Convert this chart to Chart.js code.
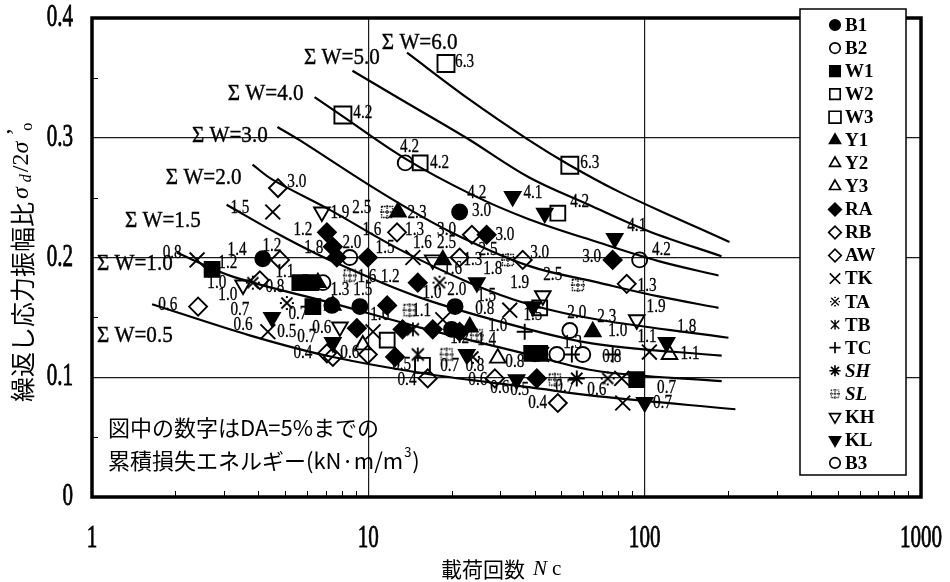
<!DOCTYPE html>
<html><head><meta charset="utf-8">
<script src="https://cdn.jsdelivr.net/npm/chart.js"></script>
<style>html,body{margin:0;padding:0;background:#fff}#wrap{width:950px;height:582px}</style>
</head><body><div id="wrap"><canvas id="c" width="950" height="582"></canvas></div>
<script>
// ---- axis ticks ----
const xTicks = [1, 10, 100, 1000];
const yTicks = [0, 0.1, 0.2, 0.3, 0.4];
const xMinor = [2,3,4,5,6,7,8,9,20,30,40,50,60,70,80,90,200,300,400,500,600,700,800,900];
const yMinor = [0.05, 0.15, 0.25, 0.35];

// ---- ΣW curves (N, stress ratio) ----
const curveNames = ['Σ W=6.0','Σ W=5.0','Σ W=4.0','Σ W=3.0','Σ W=2.0','Σ W=1.5','Σ W=1.0','Σ W=0.5'];
const sw60N = [13.8, 23.2, 38.1, 53.2, 80.6, 132.7, 202.8];
const sw60S = [0.371, 0.332, 0.298, 0.2775, 0.255, 0.232, 0.213];
const sw50N = [8.76, 12.9, 22.6, 38.1, 62.8, 103.4, 189.7];
const sw50S = [0.356, 0.333, 0.300, 0.267, 0.244, 0.222, 0.201];
const sw40N = [6.39, 8.06, 13.5, 23.7, 38.1, 68.2, 112.3, 185];
const sw40S = [0.334, 0.318, 0.283, 0.2525, 0.232, 0.2125, 0.197, 0.185];
const sw30N = [4.69, 5.64, 11.0, 19.6, 38.1, 68.2, 112.3, 185];
const sw30S = [0.309, 0.298, 0.255, 0.222, 0.193, 0.179, 0.1675, 0.158];
const sw20N = [3.81, 4.50, 7.23, 12.9, 23.2, 38.1, 68.2, 201];
const sw20S = [0.2775, 0.265, 0.240, 0.207, 0.179, 0.161, 0.148, 0.133];
const sw15N = [3.07, 4.77, 7.23, 15.3, 38.1, 68.2, 190];
const sw15S = [0.244, 0.219, 0.198, 0.1667, 0.140, 0.1275, 0.118];
const sw10N = [2.03, 3.23, 7.23, 15.3, 38.1, 68.2, 190];
const sw10S = [0.204, 0.184, 0.1625, 0.1417, 0.119, 0.105, 0.0967];
const sw05N = [1.65, 3.72, 7.23, 16.6, 38.1, 68.2, 213];
const sw05S = [0.161, 0.135, 0.1175, 0.1025, 0.0917, 0.084, 0.0733];
const curveLabelN = [11.19, 5.85, 3.10, 2.30, 1.85, 1.316, 1.042, 1.042];
const curveLabelS = [0.379, 0.367, 0.3365, 0.302, 0.267, 0.231, 0.195, 0.135];

// ---- test series (N, stress ratio) ----
const B1_N = [4.15, 21.4, 7.38, 9.32, 20.6, 20.0];
const B1_S = [0.199, 0.238, 0.160, 0.159, 0.159, 0.140];
const B2_N = [13.6, 6.85, 8.57, 53.6, 48.1, 59.7];
const B2_S = [0.279, 0.179, 0.200, 0.139, 0.119, 0.119];
const W1_N = [2.72, 5.65, 6.20, 6.30, 39.0, 41.7, 93.6];
const W1_S = [0.190, 0.179, 0.179, 0.159, 0.120, 0.120, 0.098];
const W2_N = [15.4, 48.5, 41.7, 11.7, 15.7];
const W2_S = [0.279, 0.237, 0.158, 0.131, 0.110];
const W3_N = [8.09, 19.1, 53.6];
const W3_S = [0.319, 0.362, 0.277];
const Y1_N = [12.8, 18.6, 6.57, 64.9, 23.3];
const Y1_S = [0.238, 0.198, 0.179, 0.138, 0.142];
const Y2_N = [29.4, 123, 7.44];
const Y2_S = [0.116, 0.119, 0.160];
const Y3_N = [9.55];
const Y3_S = [0.127];
const RA_N = [7.08, 26.8, 7.69, 9.96, 7.44, 15.1, 11.7, 9.09, 13.3, 17.1, 21.4, 40.7, 76.6, 12.5];
const RA_S = [0.221, 0.219, 0.200, 0.200, 0.209, 0.179, 0.160, 0.141, 0.140, 0.140, 0.138, 0.099, 0.198, 0.117];
const RB_N = [4.71, 4.79, 2.42, 12.7, 23.7, 21.4, 36.2, 86.1, 7.08];
const RB_S = [0.258, 0.198, 0.159, 0.221, 0.219, 0.200, 0.198, 0.178, 0.120];
const AW_N = [4.05, 7.44, 9.96, 16.4, 28.7, 48.5];
const AW_S = [0.181, 0.117, 0.119, 0.099, 0.099, 0.0785];
const TK_N = [2.40, 4.51, 4.33, 14.5, 18.6, 32.5, 10.4, 104, 83.3, 82.6, 42.4];
const TK_S = [0.198, 0.238, 0.138, 0.200, 0.148, 0.156, 0.138, 0.121, 0.0785, 0.099, 0.119];
const TA_N = [3.82, 18.1, 5.07, 73.5, 23.9];
const TA_S = [0.179, 0.179, 0.162, 0.099, 0.117];
const TB_N = [14.5, 15.1];
const TB_S = [0.140, 0.119];
const TC_N = [36.8, 54.5, 76.6];
const TC_S = [0.138, 0.119, 0.119];
const SH_N = [56.8];
const SH_S = [0.099];
const SL_N = [11.7, 8.57, 32.0, 57.3, 14.1, 19.2, 47.3, 24.7];
const SL_S = [0.238, 0.185, 0.198, 0.177, 0.156, 0.119, 0.098, 0.135];
const KH_N = [6.79, 3.52, 17.1, 42.8, 93.6, 7.89];
const KH_S = [0.238, 0.177, 0.198, 0.168, 0.148, 0.142];
const KL_N = [33.3, 43.5, 77.9, 24.7, 39.4, 4.48, 7.44, 22.7, 34.4, 120, 100];
const KL_S = [0.251, 0.237, 0.216, 0.179, 0.159, 0.150, 0.129, 0.119, 0.098, 0.129, 0.079];
const B3_N = [95.9];
const B3_S = [0.198];

// ---- energy numbers written in the figure ----
const numText = ['4.2','6.3','6.3','4.2','4.2','4.2','4.1','4.2','4.1','3.0','4.2','1.3','2.5','3.0','1.9','1.8','2.0','2.3','1.0','1.3','1.1','1.1','0.8','0.7','0.7',
 '3.0','1.5','1.9','2.5','2.3','3.0','1.2','2.0','1.6','1.3','3.0','3.0','1.6','2.5','2.5','1.8','1.4','1.2','0.8','1.2','1.1','1.0','1.0','0.8','1.5','1.2','1.6','1.3','1.5',
 '1.3','1.6','1.8','1.9','1.0','2.0','1.5','1.6','1.1','0.8','1.5','1.0','1.4','1.2','0.6','0.7','0.7','0.6','0.5','0.7','0.6','0.4','0.6','0.5','0.7','0.8','0.8','0.4','0.6','0.6','0.5','0.7','0.6','0.4'];
const numN = [9.55,22.3,63.3,14.1,18.1,24.7,39.4,58.2,93.6,64.3,115,102,46.5,41.7,110,142,56.8,72.9,79.9,54.9,102,146,76.0,120,116,
 5.51,3.43,7.89,9.47,15.0,25.7,5.80,8.72,10.3,14.7,19.2,31.2,15.7,19.2,27.1,6.35,3.35,4.48,1.95,3.10,4.99,2.83,3.10,4.59,11.5,12.0,9.88,7.89,9.55,
 23.9,20.2,28.2,35.3,17.0,20.9,26.8,11.0,15.6,26.4,39.4,29.4,26.8,21.4,1.88,3.43,5.56,3.52,5.07,5.99,6.79,5.80,8.57,13.2,19.7,24.3,33.9,13.8,24.9,29.9,35.3,51.4,67.1,41.0];
const numS = [0.321,0.363,0.279,0.292,0.279,0.254,0.254,0.246,0.226,0.200,0.206,0.176,0.185,0.204,0.159,0.142,0.154,0.150,0.139,0.129,0.134,0.119,0.117,0.091,0.0785,
 0.263,0.241,0.237,0.241,0.237,0.239,0.223,0.212,0.223,0.223,0.223,0.219,0.212,0.212,0.206,0.208,0.206,0.210,0.204,0.195,0.188,0.179,0.169,0.175,0.208,0.184,0.184,0.173,0.173,
 0.198,0.190,0.190,0.179,0.170,0.173,0.168,0.152,0.155,0.157,0.152,0.143,0.131,0.133,0.160,0.156,0.153,0.144,0.138,0.134,0.141,0.120,0.120,0.110,0.109,0.109,0.113,0.098,0.098,0.091,0.089,0.092,0.089,0.0785];

// ---- marker symbols ----
function symCanvas(draw){ const c=document.createElement('canvas'); c.width=16; c.height=16; const g=c.getContext('2d'); g.strokeStyle='#000'; g.fillStyle='#000'; g.lineWidth=1.8; draw(g); return c; }
const taImg = symCanvas(g=>{ g.beginPath(); g.moveTo(2.5,2.5); g.lineTo(13.5,13.5); g.moveTo(13.5,2.5); g.lineTo(2.5,13.5); g.stroke(); g.fillRect(1,7,2,2); g.fillRect(13,7,2,2); g.fillRect(7,1,2,2); g.fillRect(7,13,2,2); });
const tbImg = symCanvas(g=>{ g.beginPath(); g.moveTo(2,2); g.lineTo(14,14); g.moveTo(14,2); g.lineTo(2,14); g.moveTo(8,1); g.lineTo(8,15); g.stroke(); });
const slImg = symCanvas(g=>{ g.lineWidth=1.3; g.setLineDash([1.6,0.9]); g.strokeRect(2.5,2.5,11,11); g.beginPath(); g.moveTo(8,1); g.lineTo(8,15); g.moveTo(1,8); g.lineTo(15,8); g.stroke(); });

const styleOf = {
  B1:{ps:'circle',r:7.5,fill:true}, B2:{ps:'circle',r:7.5,fill:false},
  W1:{ps:'rect',r:10.5,fill:true}, W2:{ps:'rect',r:10.5,fill:false}, W3:{ps:'rect',r:12,fill:false},
  Y1:{ps:'triangle',r:9,fill:true}, Y2:{ps:'triangle',r:9,fill:false}, Y3:{ps:'triangle',r:9,fill:false},
  RA:{ps:'rectRot',r:9,fill:true}, RB:{ps:'rectRot',r:9,fill:false}, AW:{ps:'rectRot',r:9,fill:false},
  TK:{ps:'crossRot',r:10.5,fill:false}, TA:{ps:taImg,r:8,fill:false}, TB:{ps:tbImg,r:8,fill:false},
  TC:{ps:'cross',r:8,fill:false}, SH:{ps:'star',r:8,fill:false}, SL:{ps:slImg,r:8,fill:false},
  KH:{ps:'triangle',r:9,rot:180,fill:false}, KL:{ps:'triangle',r:9,rot:180,fill:true},
  B3:{ps:'circle',r:7.5,fill:false}
};
const italicLegend = {SH:true, SL:true};

const seriesTable = [
  ['B1',B1_N,B1_S],['B2',B2_N,B2_S],['W1',W1_N,W1_S],['W2',W2_N,W2_S],['W3',W3_N,W3_S],
  ['Y1',Y1_N,Y1_S],['Y2',Y2_N,Y2_S],['Y3',Y3_N,Y3_S],['RA',RA_N,RA_S],['RB',RB_N,RB_S],
  ['AW',AW_N,AW_S],['TK',TK_N,TK_S],['TA',TA_N,TA_S],['TB',TB_N,TB_S],['TC',TC_N,TC_S],
  ['SH',SH_N,SH_S],['SL',SL_N,SL_S],['KH',KH_N,KH_S],['KL',KL_N,KL_S],['B3',B3_N,B3_S]
];
const curveTable = [[sw60N,sw60S],[sw50N,sw50S],[sw40N,sw40S],[sw30N,sw30S],[sw20N,sw20S],[sw15N,sw15S],[sw10N,sw10S],[sw05N,sw05S]];

const pts = (N,S) => N.map((n,i)=>({x:n,y:S[i]}));
const datasets = [];
curveTable.forEach((c,i)=>datasets.push({label:curveNames[i], data:pts(c[0],c[1]), showLine:true, borderColor:'#000', borderWidth:2.2,
  pointRadius:0, tension:0.35, order:10, fill:false}));
seriesTable.forEach(s=>{ const st=styleOf[s[0]]; datasets.push({label:s[0], data:pts(s[1],s[2]), showLine:false,
  pointStyle:st.ps, pointRadius:st.r, pointRotation:st.rot||0, pointBorderWidth:1.9, borderColor:'#000',
  pointBorderColor:'#000', pointBackgroundColor: st.fill ? '#000' : 'rgba(0,0,0,0)', order:1}); });

const SERIF = '"Liberation Serif", "Times New Roman", serif';
const CJK = '"Noto Sans CJK JP", sans-serif';

function condensedText(ctx, t, x, y, sx, bold){ ctx.save(); ctx.translate(x,y); ctx.scale(sx,1); ctx.fillText(t,0,0); if(bold){ctx.lineWidth=bold; ctx.strokeText(t,0,0);} ctx.restore(); }

const extras = {
  id:'extras',
  afterDatasetsDraw(chart){
    const ctx=chart.ctx, ca=chart.chartArea, xs=chart.scales.x, ys=chart.scales.y;
    ctx.save();
    ctx.fillStyle='#000'; ctx.strokeStyle='#000';
    // energy numbers
    ctx.font='19px '+SERIF; ctx.textAlign='center'; ctx.textBaseline='middle';
    numText.forEach((t,i)=>condensedText(ctx,t,xs.getPixelForValue(numN[i]),ys.getPixelForValue(numS[i]),0.8,0.3));
    // curve labels
    ctx.font='24px '+SERIF; ctx.textAlign='left';
    curveNames.forEach((t,i)=>condensedText(ctx,t,xs.getPixelForValue(curveLabelN[i]),ys.getPixelForValue(curveLabelS[i]),0.88,0.4));
    // minor ticks
    ctx.lineWidth=1;
    ctx.beginPath();
    xMinor.forEach(v=>{const px=Math.round(xs.getPixelForValue(v))+0.5; ctx.moveTo(px,ca.bottom); ctx.lineTo(px,ca.bottom-6);});
    yMinor.forEach(v=>{const py=Math.round(ys.getPixelForValue(v))+0.5; ctx.moveTo(ca.left,py); ctx.lineTo(ca.left+6,py);});
    ctx.stroke();
    // frame
    ctx.lineWidth=3.5; ctx.strokeRect(ca.left,ca.top,ca.right-ca.left,ca.bottom-ca.top);
    // tick labels (tall, narrow serif)
    ctx.font='31px '+SERIF; ctx.textBaseline='middle';
    ctx.textAlign='right';
    ys.ticks.forEach(t=>condensedText(ctx, t.value===0?'0':t.value.toFixed(1), ca.left-19, ys.getPixelForValue(t.value), 0.68, 0.8));
    ctx.textAlign='center';
    xs.ticks.forEach(t=>condensedText(ctx, String(t.value), xs.getPixelForValue(t.value), ca.bottom+42, 0.68, 0.8));
    // legend box
    const lx=ca.right-121, ly=ca.top-9, lw=106, lh=466;
    ctx.fillStyle='#fff'; ctx.fillRect(lx,ly,lw,lh);
    ctx.lineWidth=1.5; ctx.strokeStyle='#000'; ctx.strokeRect(lx,ly,lw,lh);
    seriesTable.forEach((s,i)=>{
      const st=styleOf[s[0]]; const yy=ly+16+i*23.05; const mx=lx+35;
      ctx.save(); ctx.translate(mx,yy); ctx.scale(0.7,0.7);
      ctx.fillStyle = st.fill ? '#000' : 'rgba(0,0,0,0)'; ctx.strokeStyle='#000'; ctx.lineWidth=2.4;
      if (Chart.helpers && Chart.helpers.drawPoint) Chart.helpers.drawPoint(ctx,{pointStyle:st.ps,radius:st.r,rotation:st.rot||0,borderWidth:2.4},0,0);
      ctx.restore();
      ctx.fillStyle='#000'; ctx.textAlign='left'; ctx.textBaseline='middle';
      ctx.font=(italicLegend[s[0]]?'italic ':'')+'bold 19px '+SERIF;
      ctx.fillText(s[0], lx+45, yy+1);
    });
    // note text
    ctx.fillStyle='#000'; ctx.textAlign='left'; ctx.textBaseline='middle';
    ctx.font='22px '+CJK;
    ctx.fillText('図中の数字はDA=5%までの', ca.left+16, 428);
    const l2='累積損失エネルギー(kN·m/m';
    ctx.fillText(l2, ca.left+16, 461);
    let w2=ctx.measureText(l2).width;
    ctx.font='13px '+CJK; ctx.fillText('3', ca.left+16+w2+1, 452);
    ctx.font='22px '+CJK; ctx.fillText(')', ca.left+16+w2+9, 461);
    // x title
    ctx.textBaseline='middle'; ctx.textAlign='left';
    let xx=441; const ty=569;
    ctx.font='21px '+CJK; ctx.fillText('載荷回数', xx, ty); xx+=ctx.measureText('載荷回数').width+8;
    ctx.font='italic 21px '+SERIF; ctx.fillText('N', xx, ty); xx+=ctx.measureText('N').width+5;
    ctx.font='21px '+SERIF; ctx.fillText('c', xx, ty);
    // y title (rotated)
    ctx.save(); ctx.translate(22, 402); ctx.rotate(-Math.PI/2);
    let p=0;
    ctx.font='25px '+CJK; ctx.fillText('繰返し応力振幅比', p, 0); p+=ctx.measureText('繰返し応力振幅比').width+3;
    ctx.font='italic 24px '+SERIF; ctx.fillText('σ', p, 0); p+=ctx.measureText('σ').width+5;
    ctx.font='italic 16px '+SERIF; ctx.fillText('d', p, 5); p+=ctx.measureText('d').width+2;
    ctx.font='24px '+SERIF; ctx.fillText('/2', p, 0); p+=ctx.measureText('/2').width;
    ctx.font='italic 24px '+SERIF; ctx.fillText('σ', p, 0); p+=ctx.measureText('σ').width+6;
    ctx.font='24px '+SERIF; ctx.fillText('\u2019', p, -6);
    ctx.font='16px '+SERIF; ctx.fillText('o', p+5, 6);
    ctx.restore();
    ctx.restore();
  }
};

new Chart(document.getElementById('c'), {
  type:'scatter',
  data:{datasets},
  options:{
    responsive:false, animation:false, devicePixelRatio:1, events:[],
    layout:{padding:{top:18,right:29,left:0,bottom:0}},
    plugins:{legend:{display:false}, tooltip:{enabled:false}},
    scales:{
      x:{type:'logarithmic', min:1, max:1000,
        afterBuildTicks:s=>{s.ticks=xTicks.map(v=>({value:v}));},
        afterFit:s=>{s.height=85;},
        ticks:{display:false}, border:{display:false},
        grid:{drawTicks:false, lineWidth:1.2, color:c=>(c.tick && (c.tick.value===10||c.tick.value===100))?'#1a1a1a':'rgba(0,0,0,0)'}},
      y:{type:'linear', min:0, max:0.4,
        afterBuildTicks:s=>{s.ticks=yTicks.map(v=>({value:v}));},
        afterFit:s=>{s.width=92;},
        ticks:{display:false}, border:{display:false},
        grid:{drawTicks:false, lineWidth:1.2, color:c=>(c.tick && c.tick.value>0 && c.tick.value<0.4)?'#1a1a1a':'rgba(0,0,0,0)'}}
    }
  },
  plugins:[extras]
});
</script></body></html>
